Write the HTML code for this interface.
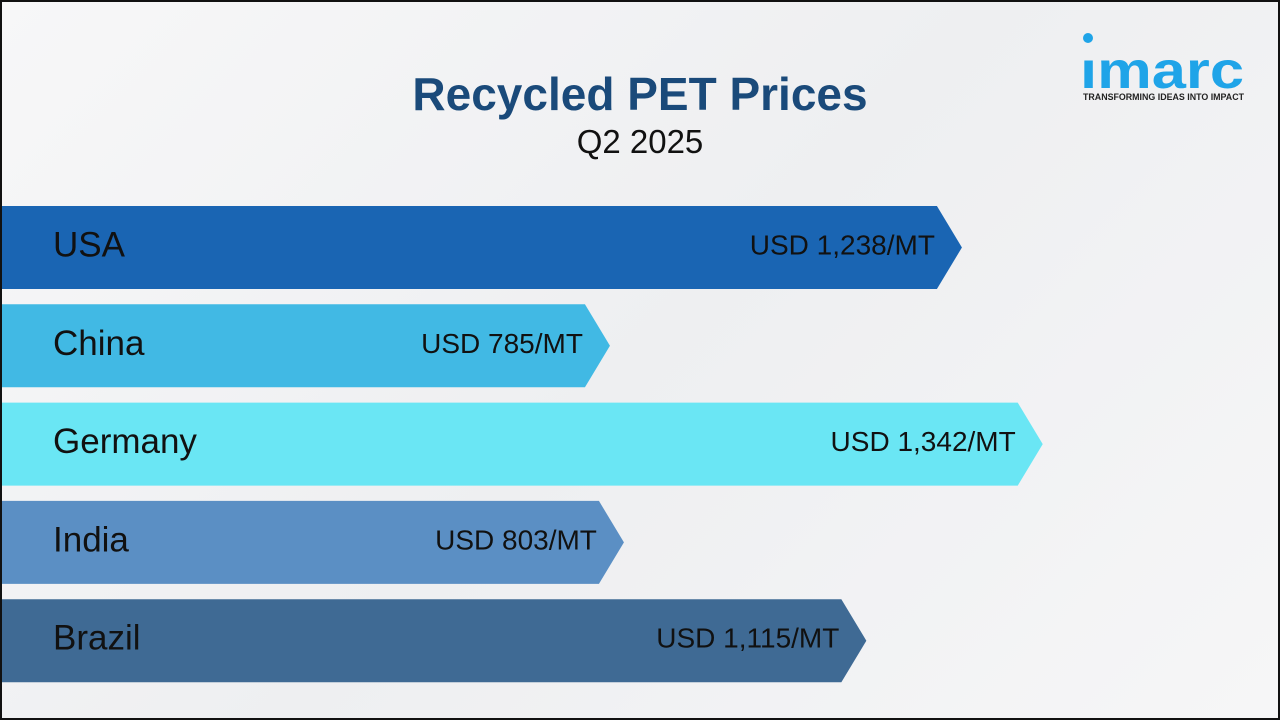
<!DOCTYPE html>
<html><head><meta charset="utf-8"><style>
html,body{margin:0;padding:0}
body{width:1280px;height:720px;overflow:hidden;font-family:"Liberation Sans",Arial,sans-serif}
#frame{position:absolute;left:0;top:0;width:1276px;height:716px;border:2px solid #111;background:linear-gradient(135deg,#f7f7f8 0%,#eeeff1 50%,#f6f6f7 100%)}
</style></head><body>
<div id="frame"></div>
<svg id="chart" width="1280" height="720" style="position:absolute;left:0;top:0">
<text x="640" y="110" text-anchor="middle" font-size="46" font-weight="bold" fill="#1a4a7a">Recycled PET Prices</text>
<text x="640" y="153" text-anchor="middle" font-size="33" fill="#111">Q2 2025</text>
<g>
<circle cx="1088" cy="38" r="5" fill="#1fa4e8"/>
<text x="1080" y="88" font-size="52" font-weight="bold" fill="#1fa4e8" textLength="164" lengthAdjust="spacingAndGlyphs">ımarc</text>
<text x="1083" y="100" font-size="9" font-weight="bold" fill="#222" textLength="161" lengthAdjust="spacingAndGlyphs">TRANSFORMING IDEAS INTO IMPACT</text>
</g>
</svg>
<script>
const categories=["USA","China","Germany","India","Brazil"];
const values=[1238,785,1342,803,1115];
const valueLabels=["USD 1,238/MT","USD 785/MT","USD 1,342/MT","USD 803/MT","USD 1,115/MT"];
const colors=["#1a65b3","#41b9e4","#6ae6f4","#5b8fc4","#3f6a94"];
const svg=document.getElementById('chart');
const NS="http://www.w3.org/2000/svg";
function xScale(v){return v*0.777;}
function yTop(i){return 206+i*98.3;}
const h=83, arrow=25;
categories.forEach((c,i)=>{
  const y=yTop(i), tip=xScale(values[i]), body=tip-arrow;
  const p=document.createElementNS(NS,'polygon');
  p.setAttribute('points',`2,${y} ${body},${y} ${tip},${y+h/2} ${body},${y+h} 2,${y+h}`);
  p.setAttribute('fill',colors[i]);
  
  
  svg.appendChild(p);
  const t=document.createElementNS(NS,'text');
  t.setAttribute('x',53);t.setAttribute('y',y+h/2+9);
  t.setAttribute('font-size','35');t.setAttribute('fill','#111');
  t.textContent=c;
  
  
  svg.appendChild(t);
  const v=document.createElementNS(NS,'text');
  v.setAttribute('x',tip-27);v.setAttribute('y',y+h/2+7);
  v.setAttribute('text-anchor','end');
  v.setAttribute('font-size','28');v.setAttribute('fill','#111');
  v.textContent=valueLabels[i];
  
  
  svg.appendChild(v);
});
</script>
</body></html>
